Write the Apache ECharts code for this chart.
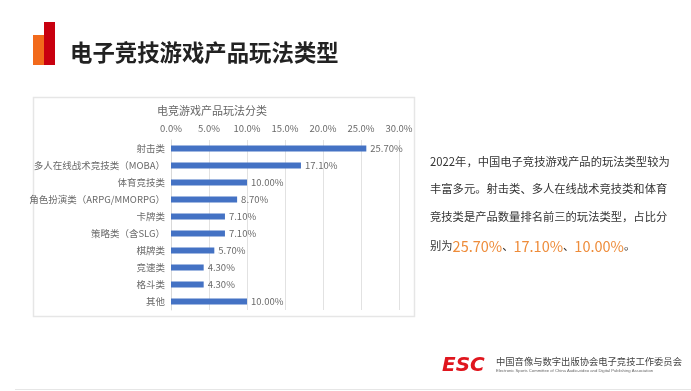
<!DOCTYPE html>
<html><head><meta charset="utf-8">
<script src="https://cdn.jsdelivr.net/npm/echarts@6/dist/echarts.min.js"></script>
<style>html,body{margin:0;padding:0;background:#fff}#c{width:691px;height:391px}</style>
</head><body><div id="c"></div>
<script>
var categories = ['射击类','多人在线战术竞技类（MOBA）','体育竞技类','角色扮演类（ARPG/MMORPG）','卡牌类','策略类（含SLG）','棋牌类','竞速类','格斗类','其他'];
var values = [25.7, 17.1, 10.0, 8.7, 7.1, 7.1, 5.7, 4.3, 4.3, 10.0];
var axisMin = 0, axisMax = 30, axisStep = 5;
var pageTitle = '电子竞技游戏产品玩法类型';
var chartTitle = '电竞游戏产品玩法分类';
var bodyLines = ['2022年，中国电子竞技游戏产品的玩法类型较为','丰富多元。射击类、多人在线战术竞技类和体育','竞技类是产品数量排名前三的玩法类型，占比分'];
var highlight = ['25.70%','17.10%','10.00%'];
var orgCn = '中国音像与数字出版协会电子竞技工作委员会';
var orgEn = 'Electronic Sports Committee of China Audio-video and Digital Publishing Association';

var font = '"Noto Sans CJK SC", "Noto Sans", sans-serif';
var chart = echarts.init(document.getElementById('c'));
chart.setOption({
  backgroundColor: '#fff',
  animation: false,
  grid: {left: 171, right: 292, top: 140, height: 170},
  xAxis: {
    type: 'value', position: 'top', min: axisMin, max: axisMax, interval: axisStep,
    axisLine: {show: false}, axisTick: {show: false},
    axisLabel: {color: '#6a6a6a', fontSize: 9.5, fontFamily: font, margin: 7,
      formatter: function (v) { return v.toFixed(1) + '%'; }},
    splitLine: {lineStyle: {color: '#e2e2e2', width: 1}}
  },
  yAxis: {
    type: 'category', data: categories, inverse: true,
    axisLine: {show: true, lineStyle: {color: '#d9d9d9'}}, axisTick: {show: false},
    axisLabel: {color: '#6a6a6a', fontSize: 9.5, fontFamily: font, margin: 6}
  },
  series: [{
    type: 'bar', data: values, barWidth: 6,
    itemStyle: {color: '#4472c4'},
    label: {show: true, position: 'right', distance: 4, color: '#6a6a6a', fontSize: 9.5, fontFamily: font,
      formatter: function (p) { return p.value.toFixed(2) + '%'; }}
  }],
  graphic: [
    {type: 'rect', shape: {x: 33.5, y: 97.5, width: 381, height: 219}, style: {fill: 'none', stroke: '#e6e6e6', lineWidth: 1.5}, z: -1},
    {type: 'rect', shape: {x: 33, y: 35, width: 11, height: 30}, style: {fill: '#f26a1b'}},
    {type: 'rect', shape: {x: 44, y: 22, width: 11, height: 43}, style: {fill: '#c8000f'}},
    {type: 'text', x: 70, y: 52, style: {text: pageTitle, fill: '#222', font: 'bold 22.4px ' + font, textVerticalAlign: 'middle'}},
    {type: 'text', x: 212, y: 111, style: {text: chartTitle, fill: '#666', font: '11px ' + font, textAlign: 'center', textVerticalAlign: 'middle'}},
    {type: 'text', x: 430, y: 162, style: {text: bodyLines[0], fill: '#333', font: '11.3px ' + font, textVerticalAlign: 'middle'}},
    {type: 'text', x: 430, y: 189, style: {text: bodyLines[1], fill: '#333', font: '11.3px ' + font, textVerticalAlign: 'middle'}},
    {type: 'text', x: 430, y: 217, style: {text: bodyLines[2], fill: '#333', font: '11.3px ' + font, textVerticalAlign: 'middle'}},
    {type: 'text', x: 430, y: 246, style: {
      text: '{a|别为}{b|' + highlight[0] + '}{a|、}{b|' + highlight[1] + '}{a|、}{b|' + highlight[2] + '}{a|。}',
      textVerticalAlign: 'middle',
      rich: {a: {fill: '#333', font: '11.3px ' + font}, b: {fill: '#ee8c3a', font: '14.5px ' + font}}
    }},
    {type: 'text', x: 442, y: 366, style: {text: 'ESC', fill: '#e0161e', font: 'italic 900 20px "DejaVu Sans", sans-serif', textVerticalAlign: 'middle'}},
    {type: 'text', x: 496, y: 361, style: {text: orgCn, fill: '#444', font: '9.3px ' + font, textVerticalAlign: 'middle'}},
    {type: 'text', x: 496, y: 371, style: {text: orgEn, fill: '#666', font: '4.2px "Liberation Sans", sans-serif', textVerticalAlign: 'middle'}},
    {type: 'rect', shape: {x: 15, y: 389, width: 676, height: 1}, style: {fill: '#e6e6e6'}}
  ]
});
</script></body></html>
